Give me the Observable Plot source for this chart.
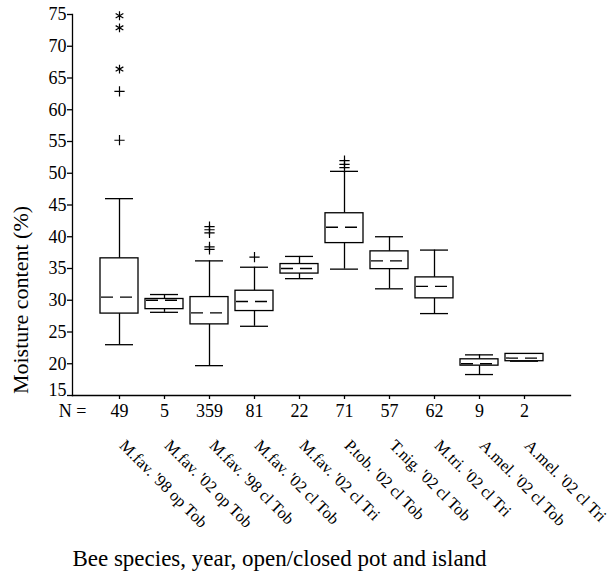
<!DOCTYPE html>
<html>
<head>
<meta charset="utf-8">
<script src="https://cdn.jsdelivr.net/npm/d3@7"></script>
<script src="https://cdn.jsdelivr.net/npm/@observablehq/plot@0.6"></script>
<style>
  html, body { margin: 0; padding: 0; background: white; }
</style>
</head>
<body>
<div id="chart"></div>
<script>
const labels = [
  "M.fav. '98 op Tob", "M.fav. '02 op Tob", "M.fav. '98 cl Tob", "M.fav. '02 cl Tob",
  "M.fav. '02 cl Tri", "P.tob. '02 cl Tob", "T.nig. '02 cl Tob", "M.tri. '02 cl Tri",
  "A.mel. '02 cl Tob", "A.mel. '02 cl Tri"
];
const nValues    = [49, 5, 359, 81, 22, 71, 57, 62, 9, 2];
const whiskerLow = [23.0, 28.1, 19.7, 25.9, 33.4, 34.9, 31.8, 27.9, 18.3, 20.4];
const q1         = [27.9, 28.6, 26.2, 28.3, 34.2, 39.0, 34.9, 30.3, 19.7, 20.4];
const median     = [30.5, 30.0, 28.0, 29.8, 35.0, 41.5, 36.2, 32.2, 20.0, 20.9];
const q3         = [36.6, 30.2, 30.5, 31.5, 35.7, 43.7, 37.7, 33.6, 20.7, 21.55];
const whiskerHigh= [46.0, 30.9, 36.2, 35.2, 36.9, 50.3, 40.0, 37.9, 21.4, 21.55];

// outliers (+) and extremes (*)
const outlierGroup = [0, 0, 2, 2, 2, 2, 2, 3, 5, 5, 5];
const outlierValue = [55.2, 62.9, 41.6, 41.1, 40.6, 38.4, 38.0, 36.8, 52.0, 51.4, 50.9];
const extremeGroup = [0, 0, 0];
const extremeValue = [66.4, 72.9, 74.8];

const yTicks = [15, 20, 25, 30, 35, 40, 45, 50, 55, 60, 65, 70, 75];
const nLabel = "N =";
const yTitle = "Moisture content (%)";
const xTitle = "Bee species, year, open/closed pot and island";

const boxes = labels.map((name, i) => ({
  name, n: nValues[i], lo: whiskerLow[i], q1: q1[i], med: median[i], q3: q3[i], hi: whiskerHigh[i]
}));
const outliers = outlierGroup.map((g, i) => ({name: labels[g], v: outlierValue[i]}));
const extremes = extremeGroup.map((g, i) => ({name: labels[g], v: extremeValue[i]}));

const font = "'Liberation Serif', 'Times New Roman', serif";
const sw = 1.3;

const chart = Plot.plot({
  width: 610,
  height: 571,
  marginLeft: 72,
  marginRight: 40,
  marginTop: 14,
  marginBottom: 176,
  style: {fontFamily: font, fontSize: "16px", color: "black", background: "white", overflow: "visible"},
  x: {type: "band", domain: labels, paddingInner: 0.16, paddingOuter: 0.58},
  y: {domain: [15, 75]},
  marks: [
    Plot.frame({anchor: "left", stroke: "black", strokeWidth: sw}),
    Plot.frame({anchor: "bottom", stroke: "black", strokeWidth: sw}),
    Plot.axisY({ticks: yTicks, tickSize: 5, tickPadding: 1, label: null, strokeWidth: sw,
      tickFormat: d => d === 15 ? "" : d, fontSize: 18}),
    Plot.axisY({ticks: [15], tickSize: 0, tickPadding: 6, label: null, dy: -5, fontSize: 18}),
    Plot.axisX({tickSize: 4, tickPadding: 5, label: null, strokeWidth: sw, fontSize: 18,
      tickFormat: d => nValues[labels.indexOf(d)]}),
    Plot.text([nLabel], {frameAnchor: "bottom-left", dy: 9, lineAnchor: "top", textAnchor: "middle", fontSize: 18}),
    Plot.text(labels, {x: d => d, frameAnchor: "bottom", dy: 51, dx: -1, rotate: 45, textAnchor: "start",
      lineAnchor: "bottom", fontSize: 16.5}),
    Plot.text([yTitle], {frameAnchor: "left", dx: -52, dy: 95, rotate: -90, textAnchor: "middle",
      lineAnchor: "middle", fontSize: 22}),
    Plot.text([xTitle], {frameAnchor: "bottom", dx: -42, dy: 170, textAnchor: "middle",
      lineAnchor: "bottom", fontSize: 23}),
    // whiskers
    Plot.ruleX(boxes, {x: "name", y1: "lo", y2: "q1", stroke: "black", strokeWidth: sw}),
    Plot.ruleX(boxes, {x: "name", y1: "q3", y2: "hi", stroke: "black", strokeWidth: sw}),
    Plot.tickY(boxes, {x: "name", y: "lo", insetLeft: 5, insetRight: 5, stroke: "black", strokeWidth: sw}),
    Plot.tickY(boxes, {x: "name", y: "hi", insetLeft: 5, insetRight: 5, stroke: "black", strokeWidth: sw}),
    // boxes
    Plot.barY(boxes, {x: "name", y1: "q1", y2: "q3", fill: "white", stroke: "black", strokeWidth: sw}),
    Plot.tickY(boxes, {x: "name", y: "med", stroke: "black", strokeWidth: sw,
      strokeDasharray: "12,7", strokeDashoffset: 18}),
    // outliers
    Plot.dot(outliers, {x: "name", y: "v", symbol: "plus", r: 3.4, stroke: "black", strokeWidth: 1.2}),
    Plot.dot(extremes, {x: "name", y: "v", symbol: "asterisk", r: 4.2, stroke: "black", strokeWidth: 1.2})
  ]
});
document.getElementById("chart").appendChild(chart);
</script>
</body>
</html>
